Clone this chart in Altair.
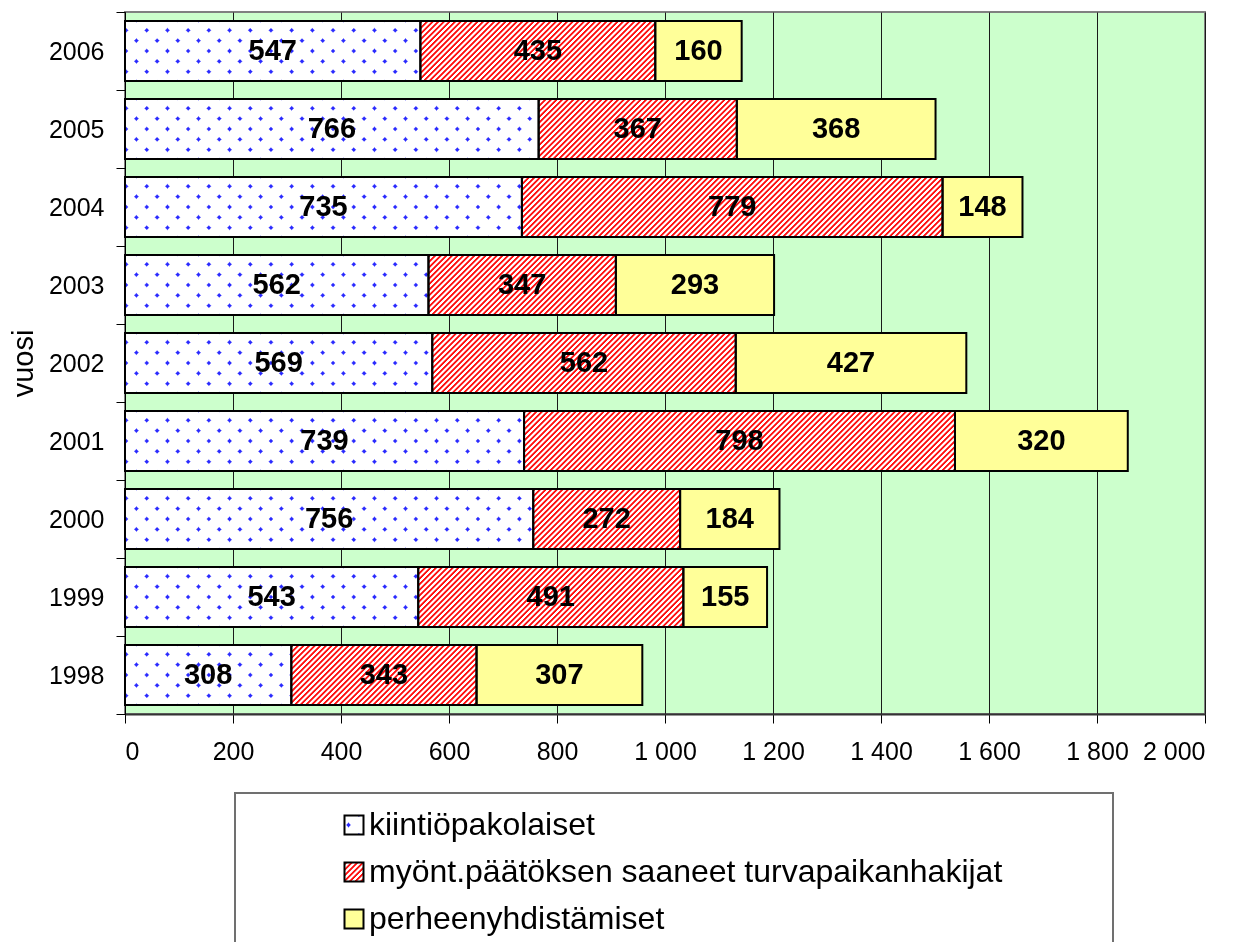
import altair as alt
import pandas as pd

# ---------------- data ----------------
years = ["1998", "1999", "2000", "2001", "2002", "2003", "2004", "2005", "2006"]
kiintio = [308, 543, 756, 739, 569, 562, 735, 766, 547]
myont = [343, 491, 272, 798, 562, 347, 779, 367, 435]
perhe = [307, 155, 184, 320, 427, 293, 148, 368, 160]
series_names = [
    "kiintiöpakolaiset",
    "myönt.päätöksen saaneet turvapaikanhakijat",
    "perheenyhdistämiset",
]
x_ticks = [0, 200, 400, 600, 800, 1000, 1200, 1400, 1600, 1800, 2000]

rows = []
for i, yr in enumerate(years):
    s = 0
    for name, vals in zip(series_names, [kiintio, myont, perhe]):
        v = vals[i]
        rows.append(dict(year=yr, series=name, value=v, start=s, end=s + v))
        s += v
df = pd.DataFrame(rows)

# ---------------- style ----------------
W, H, BAR = 1080, 702, 60
PX = W / 2000.0
FONT = "Liberation Sans"
BLUE = "#2a2aff"
RED = "#ff1010"
YELLOW = "#ffff99"


def stripe_stops(L, period, phase, core, ramp, fg, bg):
    stops = []
    k = 0
    while True:
        c = phase + k * period
        if c + core + ramp > L:
            break
        for s_, col in [(c - core - ramp, bg), (c - core, fg), (c + core, fg), (c + core + ramp, bg)]:
            stops.append({"offset": round(max(0.0, min(1.0, s_ / L)), 6), "color": col})
        k += 1
    if not stops:
        stops = [{"offset": 0, "color": bg}, {"offset": 1, "color": bg}]
    return stops


def grad_slash(w, h, stops):
    k = w * (w + h) / (w * w + h * h)
    return {"gradient": "linear", "x1": 0, "y1": 0, "x2": k, "y2": k * h / w, "stops": stops}


def grad_back(w, h, stops):
    a = w * (w + h) / (w * w + h * h)
    return {"gradient": "linear", "x1": 0, "y1": 1, "x2": a, "y2": 1 - a * h / w, "stops": stops}


DOT_P = 20.7


def dots_pair(w, h, phase=DOT_P / 2):
    L = w + h
    st = stripe_stops(L, DOT_P, phase, 1.5, 1.5, BLUE, "#ffffff")
    return grad_slash(w, h, st), grad_back(w, h, st)


def hatch(w, h):
    L = w + h
    st = stripe_stops(L, 5.6, 1.8, 0.8, 1.0, RED, "#ffffff")
    return grad_slash(w, h, st)


# ---------------- main chart ----------------
yaxis = alt.Axis(
    title="vuosi", titleFontSize=29, titleFontWeight="normal", titleColor="black",
    titleFont=FONT, titlePadding=10, labelFontSize=25, labelColor="black", labelFont=FONT,
    labelPadding=12, tickSize=9, tickColor="black", tickBand="extent",
    domainColor="black", domainWidth=1, grid=False,
)
xaxis = alt.Axis(
    values=x_ticks, labelExpr="replace(format(datum.value, ','), ',', ' ')",
    labelFontSize=25, labelColor="black", labelFont=FONT, labelPadding=16,
    tickSize=9, tickColor="black", domainColor="#333333", domainWidth=2,
    grid=True, gridColor="#1a1a1a", gridWidth=1, title=None,
)
Y = alt.Y("year:N", sort=years[::-1], scale=alt.Scale(paddingInner=0, paddingOuter=0), axis=yaxis)
X = alt.X("start:Q", scale=alt.Scale(domain=[0, 2000], nice=False), axis=xaxis)
X2 = alt.X2("end:Q")

layers = []
for i, yr in enumerate(years):
    w1 = kiintio[i] * PX
    gA, gB = dots_pair(w1, BAR)
    f1 = (alt.datum.year == yr) & (alt.datum.series == series_names[0])
    layers.append(alt.Chart().mark_bar(size=BAR, fill=gA, strokeWidth=0).encode(y=Y, x=X, x2=X2).transform_filter(f1))
    layers.append(alt.Chart().mark_bar(size=BAR, fill=gB, strokeWidth=0, blend="lighten").encode(y=Y, x=X, x2=X2).transform_filter(f1))
    w2 = myont[i] * PX
    f2 = (alt.datum.year == yr) & (alt.datum.series == series_names[1])
    layers.append(alt.Chart().mark_bar(size=BAR, fill=hatch(w2, BAR), strokeWidth=0).encode(y=Y, x=X, x2=X2).transform_filter(f2))

layers.append(
    alt.Chart().mark_bar(size=BAR, fill=YELLOW, strokeWidth=0)
    .encode(y=Y, x=X, x2=X2).transform_filter(alt.datum.series == series_names[2])
)
layers.append(
    alt.Chart().mark_bar(size=BAR, fill="#ffffff", fillOpacity=0, stroke="black", strokeWidth=2)
    .encode(y=Y, x=X, x2=X2)
)
layers.append(
    alt.Chart().mark_text(font=FONT, fontSize=29, fontWeight="bold", color="black", baseline="middle")
    .transform_calculate(mid="(datum.start + datum.end) / 2")
    .encode(y=Y, x=alt.X("mid:Q"), text="value:Q")
)

main = alt.layer(*layers, data=df).properties(
    width=W, height=H,
    view=alt.ViewBackground(fill="#ccffcc", stroke="#808080", strokeWidth=2),
)

# ---------------- legend panel ----------------
leg_df = pd.DataFrame({"series": series_names})
LY = alt.Y("series:N", sort=series_names, scale=alt.Scale(padding=0.68), axis=None)
SQ = 19
SYM_X = 119
lgA, lgB = dots_pair(SQ, SQ, phase=13.5)
leg_layers = [
    alt.Chart().mark_square(size=SQ * SQ, fill=lgA, strokeWidth=0, opacity=1)
    .encode(y=LY, x=alt.value(SYM_X)).transform_filter(alt.datum.series == series_names[0]),
    alt.Chart().mark_square(size=SQ * SQ, fill=lgB, strokeWidth=0, opacity=1, blend="lighten")
    .encode(y=LY, x=alt.value(SYM_X)).transform_filter(alt.datum.series == series_names[0]),
    alt.Chart().mark_square(size=SQ * SQ, fill=hatch(SQ, SQ), strokeWidth=0, opacity=1)
    .encode(y=LY, x=alt.value(SYM_X)).transform_filter(alt.datum.series == series_names[1]),
    alt.Chart().mark_square(size=SQ * SQ, fill=YELLOW, strokeWidth=0, opacity=1)
    .encode(y=LY, x=alt.value(SYM_X)).transform_filter(alt.datum.series == series_names[2]),
    alt.Chart().mark_square(size=SQ * SQ, fill="#ffffff", fillOpacity=0, stroke="black", strokeWidth=2, opacity=1)
    .encode(y=LY, x=alt.value(SYM_X)),
    alt.Chart().mark_text(font=FONT, fontSize=32, color="black", align="left", baseline="middle")
    .encode(y=LY, x=alt.value(SYM_X + 15), text="series:N"),
]
legend = alt.layer(*leg_layers, data=leg_df).properties(
    width=878, height=158,
    view=alt.ViewBackground(fill="#ffffff", stroke="#707070", strokeWidth=2),
)
spacer = (
    alt.Chart(leg_df).mark_point(opacity=0)
    .encode(x=alt.value(0), y=alt.value(0))
    .properties(width=109, height=158,
                view=alt.ViewBackground(fillOpacity=0, strokeOpacity=0))
)
legend_row = alt.hconcat(spacer, legend, spacing=0)

chart = (
    alt.vconcat(main, legend_row, spacing=25)
    .properties(padding={"left": 0, "top": -9, "right": 0, "bottom": 0})
    .configure(font=FONT)
)

chart.save("out.html", embed_options={"renderer": "svg", "actions": False})
